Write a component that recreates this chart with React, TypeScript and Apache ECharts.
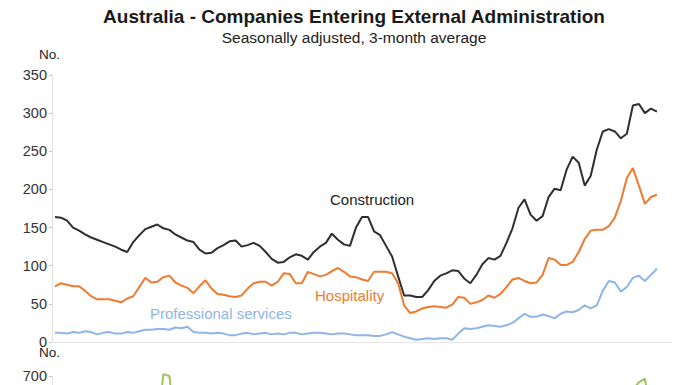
import React, { useEffect, useRef } from "react";
import * as echarts from "echarts";

// Monthly observations (3-month average), Australia, companies entering external administration
const construction = [164,163,159,150,146,141,137,134,131,128,125,121,118,131,140,148,151,154,149,147,141,137,133,131,121,116,117,123,127,132,133,125,127,130,126,118,109,104,105,111,115,113,108,118,125,130,142,134,128,126,150,164,164,145,140,126,112,86,61,61,59,59,68,80,87,90,94,93,83,77,88,102,110,108,113,130,149,176,187,167,159,165,190,201,199,226,243,235,205,218,252,276,279,276,267,273,310,312,300,306,302];
const hospitality = [73,77,75,73,73,67,60,56,56,56,54,52,57,60,72,84,78,79,85,87,78,74,71,64,73,81,70,63,62,60,59,61,70,77,79,79,74,79,90,89,77,77,92,89,86,88,93,97,92,86,85,82,80,92,92,92,90,77,48,38,40,44,46,47,46,45,49,59,58,50,52,55,61,58,63,72,82,84,80,77,78,88,110,108,101,101,105,118,135,146,147,147,152,163,185,215,228,205,181,190,193];
const professional = [12,12,11,13,12,14,13,10,12,13,11,11,13,12,14,16,16,17,17,16,19,18,20,13,12,12,11,12,11,9,9,11,12,10,11,12,10,11,10,12,12,10,11,12,12,11,10,11,11,10,9,9,9,8,8,10,13,10,7,5,3,4,5,4,5,5,3,11,18,17,18,20,22,21,20,22,25,31,37,33,33,36,34,31,37,40,39,42,48,44,48,67,80,78,66,72,84,87,80,88,96];
// Lower panel (only its peaks are visible in the cropped picture)
const lowerPanel = [430,450,470,440,460,480,500,470,450,480,500,520,540,560,580,540,520,560,705,700,560,520,480,460,440,470,450,430,420,440,460,450,430,410,420,440,460,450,430,420,410,430,450,470,440,420,400,420,440,460,480,500,470,440,420,300,250,200,180,190,200,210,220,230,250,260,270,280,300,320,340,360,380,400,420,440,460,480,500,520,540,560,580,560,540,520,560,580,600,580,600,620,600,610,630,640,665,683,693,600,580];

const topAxis = { min: 0, max: 350, interval: 50 };
const lowerAxis = { min: 0, max: 700, interval: 100 };

const FONT = "'Liberation Sans', Arial, sans-serif";

export default function App() {
  const ref = useRef<HTMLDivElement>(null);
  useEffect(() => {
    const chart = echarts.init(ref.current!, null, { renderer: "svg" });
    const pairs = (arr: number[]) => arr.map((v, i) => [i, v]);
    const yAxisBase = {
      type: "value",
      axisLine: { show: true, onZero: false, lineStyle: { color: "#e2e2e2", width: 1 } },
      axisTick: { show: true, length: 3, lineStyle: { color: "#c8c8c8" } },
      axisLabel: { color: "#333", fontSize: 14.5, margin: 5, fontFamily: FONT },
      splitLine: { show: false },
    };
    const lineSeries = (name: string, data: number[], color: string, idx: number) => ({
      name,
      type: "line",
      data: pairs(data),
      xAxisIndex: idx,
      yAxisIndex: idx,
      showSymbol: false,
      symbol: "none",
      clip: false,
      lineStyle: { color, width: 2 },
      itemStyle: { color },
    });
    chart.setOption({
      animation: false,
      textStyle: { fontFamily: FONT },
      grid: [
        { left: 52, top: 75, width: 620, height: 267 },
        { left: 52, top: 376, width: 620, height: 266 },
      ],
      xAxis: [
        {
          type: "value", gridIndex: 0, min: -0.5, max: 102.5,
          axisLine: { show: true, lineStyle: { color: "#e6e6e6", width: 1 } },
          axisTick: { show: false }, axisLabel: { show: false }, splitLine: { show: false },
        },
        { type: "value", gridIndex: 1, min: -0.5, max: 102.5, show: false },
      ],
      yAxis: [
        { ...yAxisBase, gridIndex: 0, ...topAxis },
        { ...yAxisBase, gridIndex: 1, ...lowerAxis },
      ],
      series: [
        lineSeries("Construction", construction, "#2e2e2e", 0),
        lineSeries("Hospitality", hospitality, "#ee7b30", 0),
        lineSeries("Professional services", professional, "#8fb5e6", 0),
        lineSeries("Lower", lowerPanel, "#9cc45c", 1),
      ],
      graphic: [
        { type: "text", x: 354, y: 7, style: { text: "Australia - Companies Entering External Administration", font: `bold 19px ${FONT}`, fill: "#1a1a1a", align: "center" } },
        { type: "text", x: 354, y: 29, style: { text: "Seasonally adjusted, 3-month average", font: `15.5px ${FONT}`, fill: "#222", align: "center" } },
        { type: "text", x: 39, y: 47, style: { text: "No.", font: `13.5px ${FONT}`, fill: "#222" } },
        { type: "text", x: 39, y: 345, style: { text: "No.", font: `13.5px ${FONT}`, fill: "#222" } },
        { type: "text", x: 330, y: 192, style: { text: "Construction", font: `15px ${FONT}`, fill: "#222" } },
        { type: "text", x: 315, y: 288, style: { text: "Hospitality", font: `15px ${FONT}`, fill: "#ee7b30" } },
        { type: "text", x: 150, y: 306, style: { text: "Professional services", font: `15px ${FONT}`, fill: "#8fb5e6" } },
      ],
    });
    return () => chart.dispose();
  }, []);
  return (
    <div style={{ position: "absolute", left: 0, top: 0, width: 696, height: 385, overflow: "hidden" }}>
      <div ref={ref} style={{ width: 696, height: 700 }} />
    </div>
  );
}
